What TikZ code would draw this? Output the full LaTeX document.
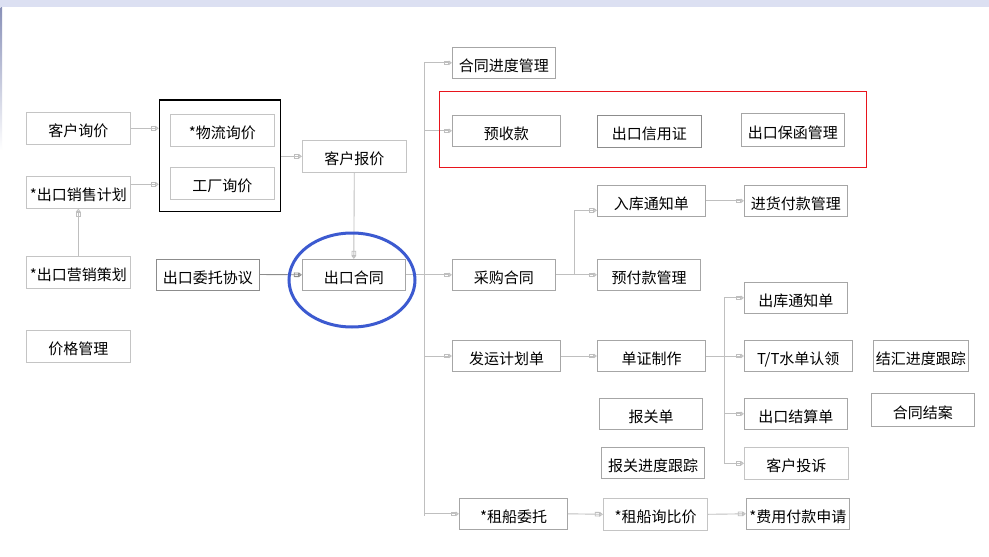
\documentclass[tikz,border=0pt]{standalone}
\usepackage{fontspec}
\newfontfamily\cjk{Noto Sans CJK SC}
\usetikzlibrary{arrows.meta,shapes.geometric}
\definecolor{bmed}{HTML}{A6A6A6}
\definecolor{blight}{HTML}{C4C4C4}
\definecolor{bdark}{HTML}{8C8C8C}
\definecolor{lineg}{HTML}{BFBFBF}
\definecolor{ellblue}{HTML}{3C5AD0}
\definecolor{topbar}{HTML}{DCE0F2}
\definecolor{leftbar}{HTML}{8890B8}
\definecolor{grpred}{HTML}{E8141C}
\tikzset{
  box/.style={draw=bmed, line width=0.9pt, fill=white, inner sep=0pt,
    text height=17pt, text depth=0pt,
    font=\cjk\fontsize{15}{17}\selectfont, text=black},
  lbox/.style={box, draw=blight},
  dbox/.style={box, draw=bdark},
  conn/.style={draw=lineg, line width=0.9pt,
    -{Rectangle[open,length=5pt,width=4.5pt,line width=0.8pt]Triangle[open,length=3pt,width=4.5pt,line width=0.8pt]}},
  dconn/.style={conn, draw=bdark},
  trunk/.style={draw=lineg, line width=0.9pt},
}
\begin{document}
\begin{tikzpicture}[x=1pt,y=-1pt]
\useasboundingbox (0,0) rectangle (989,557);
\fill[white] (0,0) rectangle (989,557);
\fill[topbar] (0,0) rectangle (989,7);
\shade[top color=leftbar, bottom color=white] (0.5,7) rectangle (2.2,150);

% containers
\node[draw=black, line width=1.2pt, minimum width=121pt, minimum height=111.3pt, inner sep=0pt] (bbox) at (219.8,155.65) {};

% left column
\node[lbox, minimum width=104pt, minimum height=32pt] (khxj) at (78.3,128.3) {客户询价};
\node[lbox, minimum width=104pt, minimum height=32pt] (xsjh) at (78.3,192.3) {*出口销售计划};
\node[lbox, minimum width=104pt, minimum height=32pt] (yxch) at (78.3,272.3) {*出口营销策划};
\node[lbox, minimum width=104.4pt, minimum height=32pt] (jggl) at (78.5,346.3) {价格管理};

\node[lbox, minimum width=104pt, minimum height=32pt] (wlxj) at (222.3,130.3) {*物流询价};
\node[lbox, minimum width=104pt, minimum height=32pt] (gcxj) at (222.3,183.3) {工厂询价};
\node[lbox, minimum width=104pt, minimum height=32pt] (khbj) at (354.3,156.3) {客户报价};
\node[dbox, minimum width=103pt, minimum height=31pt] (wtxy) at (207.8,274.5) {出口委托协议};
\node[box, minimum width=103pt, minimum height=31pt] (ckht) at (353.8,274.8) {出口合同};

% right side
\node[box, minimum width=103pt, minimum height=31pt] (htjd) at (503.8,62.8) {合同进度管理};
\node[box, minimum width=108pt, minimum height=31pt] (ysk) at (506.3,130.8) {预收款};
\node[dbox, minimum width=104pt, minimum height=32pt] (xyz) at (649.3,131.3) {出口信用证};
\node[box, minimum width=103pt, minimum height=33pt] (bhgl) at (792.8,129.8) {出口保函管理};
\node[box, minimum width=108pt, minimum height=31pt] (rktz) at (651.3,200.8) {入库通知单};
\node[box, minimum width=103pt, minimum height=31pt] (jhfk) at (795.8,200.8) {进货付款管理};
\node[box, minimum width=103pt, minimum height=31pt] (cght) at (503.8,274.8) {采购合同};
\node[box, minimum width=103.4pt, minimum height=31pt] (yfk) at (649,274.8) {预付款管理};
\node[box, minimum width=103pt, minimum height=31pt] (cktz) at (795.8,297.8) {出库通知单};
\node[box, minimum width=108.4pt, minimum height=30.6pt] (fyjh) at (506.5,356) {发运计划单};
\node[box, minimum width=108.4pt, minimum height=30.6pt] (dzzz) at (651.5,356) {单证制作};
\node[box, minimum width=108pt, minimum height=30.6pt] (tt) at (798.3,356) {T/T水单认领};
\node[box, minimum width=95pt, minimum height=30.6pt] (jhjd) at (920.8,356) {结汇进度跟踪};
\node[box, minimum width=103.4pt, minimum height=31pt] (bgd) at (651,413.8) {报关单};
\node[box, minimum width=103pt, minimum height=31pt] (jsd) at (795.8,413.8) {出口结算单};
\node[box, minimum width=103pt, minimum height=33pt] (htja) at (922.8,409.8) {合同结案};
\node[box, minimum width=103.4pt, minimum height=31.4pt] (bgjd) at (653,463) {报关进度跟踪};
\node[lbox, minimum width=104pt, minimum height=32pt] (khts) at (796.3,463.3) {客户投诉};
\node[box, minimum width=108.4pt, minimum height=31pt] (zcwt) at (513.5,513.8) {*租船委托};
\node[lbox, minimum width=104.4pt, minimum height=32pt] (zcxj) at (655.5,514.3) {*租船询比价};
\node[box, minimum width=103pt, minimum height=31pt] (fyfk) at (797.8,513.8) {*费用付款申请};

% connectors left
\draw[conn] (khxj.east) -- (khxj.east -| bbox.west);
\draw[conn] ([yshift=8pt]xsjh.east) -- ([yshift=8pt]xsjh.east -| bbox.west);
\draw[conn] (khbj.west -| bbox.east) -- (khbj.west);
\draw[conn] (yxch.north) -- (xsjh.south);
\draw[conn] (khbj.south) -- (ckht.north);
\draw[dconn] (wtxy.east) -- (ckht.west);

% trunk
\coordinate (trk) at (424.3,0);
\draw[trunk] (trk |- htjd.west) -- ([yshift=-2.5pt]trk |- zcwt.west);
\draw[conn] (ckht.east) -- (cght.west);
\draw[conn] (trk |- htjd.west) -- (htjd.west);
\draw[conn] (trk |- ysk.west) -- (ysk.west);
\draw[conn] (trk |- fyjh.west) -- (fyjh.west);
\draw[conn] (trk |- zcwt.west) -- (zcwt.west);

% purchase branch
\coordinate (b1) at (574,0);
\draw[conn] (cght.east) -- (yfk.west);
\draw[conn] (b1 |- cght.east) |- ([yshift=-9.5pt]rktz.west);
\draw[conn] (rktz.east) -- (jhfk.west);

% shipping branch
\coordinate (b2) at (724.3,0);
\draw[conn] (fyjh.east) -- (dzzz.west);
\draw[trunk] (dzzz.east) -- (b2 |- dzzz.east);
\draw[trunk] (b2 |- cktz.west) -- (b2 |- khts.west);
\draw[conn] (b2 |- cktz.west) -- (cktz.west);
\draw[conn] (b2 |- tt.west) -- (tt.west);
\draw[conn] (b2 |- jsd.west) -- (jsd.west);
\draw[conn] (b2 |- khts.west) -- (khts.west);

\draw[conn] (zcwt.east) -- (zcxj.west);
\draw[conn] (zcxj.east) -- (fyfk.west);

% red group and highlight
\node[draw=grpred, line width=1pt, minimum width=427pt, minimum height=75.6pt, inner sep=0pt] (redbox) at (652.8,129.5) {};
\node[draw=ellblue, line width=3pt, ellipse, minimum width=126pt, minimum height=94pt, inner sep=0pt] (hl) at (352,280) {};
\end{tikzpicture}
\end{document}
